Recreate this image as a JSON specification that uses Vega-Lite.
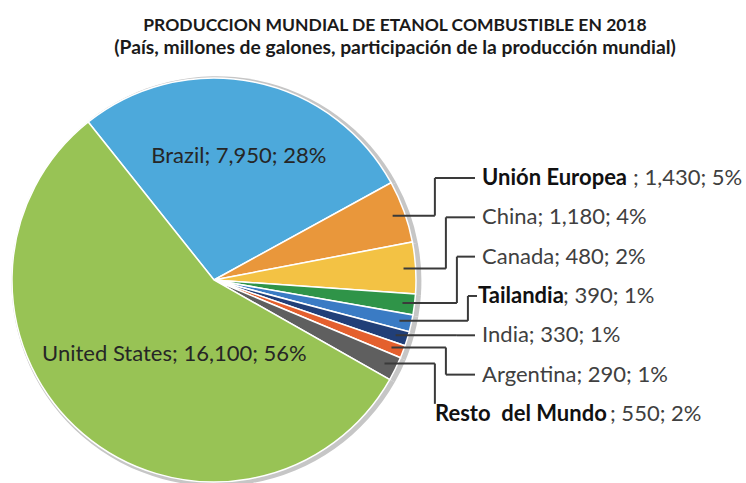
{
  "$schema": "https://vega.github.io/schema/vega-lite/v6.json",
  "width": 746,
  "height": 421,
  "autosize": {"type": "none"},
  "padding": {"left": 0, "right": 0, "top": 62, "bottom": 0},
  "background": "white",
  "config": {"view": {"stroke": null}, "font": "Lato"},
  "title": {
    "text": "PRODUCCION MUNDIAL DE ETANOL COMBUSTIBLE EN 2018",
    "subtitle": "(País, millones de galones, participación de la producción mundial)",
    "font": "Lato",
    "fontSize": 17.5,
    "fontWeight": "bold",
    "color": "#1a1a1a",
    "subtitleFont": "Lato",
    "subtitleFontSize": 19.3,
    "subtitleFontWeight": "bold",
    "subtitleColor": "#1a1a1a",
    "subtitlePadding": 4,
    "anchor": "middle",
    "dx": 22,
    "offset": 4
  },
  "data": {
    "values": [
      {"pais": "Brazil", "valor": 7950, "pct": "28%", "orden": 1},
      {"pais": "Unión Europea", "valor": 1430, "pct": "5%", "orden": 2},
      {"pais": "China", "valor": 1180, "pct": "4%", "orden": 3},
      {"pais": "Canada", "valor": 480, "pct": "2%", "orden": 4},
      {"pais": "Tailandia", "valor": 390, "pct": "1%", "orden": 5},
      {"pais": "India", "valor": 330, "pct": "1%", "orden": 6},
      {"pais": "Argentina", "valor": 290, "pct": "1%", "orden": 7},
      {"pais": "Resto\u00a0 del Mundo", "valor": 550, "pct": "2%", "orden": 8},
      {"pais": "United States", "valor": 16100, "pct": "56%", "orden": 9}
    ]
  },
  "transform": [
    {"window": [{"op": "sum", "field": "valor", "as": "acum"}], "sort": [{"field": "orden"}], "frame": [null, 0]},
    {"joinaggregate": [{"op": "sum", "field": "valor", "as": "total"}]},
    {"calculate": "datum.acum - datum.valor / 2", "as": "medio"},
    {"calculate": "-0.672 + 2 * PI * datum.medio / datum.total", "as": "ang"},
    {"calculate": "datum.pais + '; ' + format(datum.valor, ',') + '; ' + datum.pct", "as": "etiqueta"},
    {"calculate": "'; ' + format(datum.valor, ',') + '; ' + datum.pct", "as": "sufijo"},
    {"calculate": "0.94 * sin(datum.ang)", "as": "x0"},
    {"calculate": "0.94 * cos(datum.ang)", "as": "y0"},
    {"calculate": "0.505 - 0.1947 * (datum.orden - 2)", "as": "ylab"},
    {"calculate": "datum.orden == 8 ? 1.094 : (datum.orden == 5 ? 1.307 : 1.327)", "as": "xlab"},
    {"calculate": "1.257 - 0.0545 * abs(datum.orden - 5)", "as": "xe"},
    {"calculate": "datum.orden == 8 ? datum.xe : (datum.orden == 5 ? 1.302 : 1.292)", "as": "xend"},
    {"calculate": "datum.orden == 8 ? datum.ylab + 0.05 : datum.ylab", "as": "yend"}
  ],
  "layer": [
    {
      "mark": {"type": "arc", "outerRadius": 205, "color": "#c6c6c6"},
      "encoding": {
        "theta": {"field": "valor", "type": "quantitative", "stack": true, "scale": {"range": [-0.672, 5.611]}},
        "x": {"datum": 0.012, "type": "quantitative", "scale": {"domain": [-1.0594, 2.6337], "nice": false, "zero": false}, "axis": null},
        "y": {"datum": -0.006, "type": "quantitative", "scale": {"domain": [-1.005, 1.0792], "nice": false, "zero": false}, "axis": null}
      }
    },
    {
      "mark": {"type": "arc", "outerRadius": 202, "stroke": "white", "strokeWidth": 1.5},
      "encoding": {
        "theta": {"field": "valor", "type": "quantitative", "stack": true, "scale": {"range": [-0.672, 5.611]}},
        "order": {"field": "orden", "type": "quantitative"},
        "color": {
          "field": "orden",
          "type": "ordinal",
          "legend": null,
          "scale": {
            "domain": [1, 2, 3, 4, 5, 6, 7, 8, 9],
            "range": ["#4DA9DB", "#E9973B", "#F3C244", "#2F9448", "#3A7BC4", "#213F78", "#E4602E", "#5F5F5F", "#98C355"]
          }
        },
        "x": {"datum": 0, "type": "quantitative"},
        "y": {"datum": 0, "type": "quantitative"}
      }
    },
    {
      "transform": [{"filter": "datum.orden == 1"}],
      "mark": {"type": "text", "radius": 126, "fontSize": 22, "color": "#262626", "font": "Lato", "align": "center", "baseline": "middle"},
      "encoding": {
        "theta": {"field": "medio", "type": "quantitative", "stack": false},
        "x": {"datum": 0, "type": "quantitative"},
        "y": {"datum": 0, "type": "quantitative"},
        "text": {"field": "etiqueta"}
      }
    },
    {
      "transform": [{"filter": "datum.orden == 9"}],
      "mark": {"type": "text", "radius": 84, "dx": 15, "dy": 10, "fontSize": 22, "color": "#262626", "font": "Lato", "align": "center", "baseline": "middle"},
      "encoding": {
        "theta": {"field": "medio", "type": "quantitative", "stack": false},
        "x": {"datum": 0, "type": "quantitative"},
        "y": {"datum": 0, "type": "quantitative"},
        "text": {"field": "etiqueta"}
      }
    },
    {
      "transform": [{"filter": "datum.orden >= 2 && datum.orden <= 8"}],
      "mark": {"type": "rule", "color": "#3a3a3a", "strokeWidth": 2},
      "encoding": {
        "x": {"field": "x0", "type": "quantitative"},
        "x2": {"field": "xe"},
        "y": {"field": "y0", "type": "quantitative"}
      }
    },
    {
      "transform": [{"filter": "datum.orden >= 2 && datum.orden <= 8"}],
      "mark": {"type": "rule", "color": "#3a3a3a", "strokeWidth": 2},
      "encoding": {
        "x": {"field": "xe", "type": "quantitative"},
        "y": {"field": "y0", "type": "quantitative"},
        "y2": {"field": "yend"}
      }
    },
    {
      "transform": [{"filter": "datum.orden >= 2 && datum.orden <= 7"}],
      "mark": {"type": "rule", "color": "#3a3a3a", "strokeWidth": 2},
      "encoding": {
        "x": {"field": "xe", "type": "quantitative"},
        "x2": {"field": "xend"},
        "y": {"field": "ylab", "type": "quantitative"}
      }
    },
    {
      "transform": [{"filter": "datum.orden == 3 || datum.orden == 4 || datum.orden == 6 || datum.orden == 7"}],
      "mark": {"type": "text", "fontSize": 22, "color": "#404040", "font": "Lato", "align": "left", "baseline": "middle"},
      "encoding": {
        "x": {"field": "xlab", "type": "quantitative"},
        "y": {"field": "ylab", "type": "quantitative"},
        "text": {"field": "etiqueta"}
      }
    },
    {
      "transform": [{"filter": "datum.orden == 2 || datum.orden == 5 || datum.orden == 8"}],
      "mark": {"type": "text", "fontSize": 22, "fontWeight": "bold", "color": "#111111", "font": "Lato", "align": "left", "baseline": "middle"},
      "encoding": {
        "x": {"field": "xlab", "type": "quantitative"},
        "y": {"field": "ylab", "type": "quantitative"},
        "text": {"field": "pais"}
      }
    },
    {
      "transform": [{"filter": "datum.orden == 2"}],
      "mark": {"type": "text", "fontSize": 22, "dx": 151, "color": "#404040", "font": "Lato", "align": "left", "baseline": "middle"},
      "encoding": {
        "x": {"field": "xlab", "type": "quantitative"},
        "y": {"field": "ylab", "type": "quantitative"},
        "text": {"field": "sufijo"}
      }
    },
    {
      "transform": [{"filter": "datum.orden == 5"}],
      "mark": {"type": "text", "fontSize": 22, "dx": 85, "color": "#404040", "font": "Lato", "align": "left", "baseline": "middle"},
      "encoding": {
        "x": {"field": "xlab", "type": "quantitative"},
        "y": {"field": "ylab", "type": "quantitative"},
        "text": {"field": "sufijo"}
      }
    },
    {
      "transform": [{"filter": "datum.orden == 8"}],
      "mark": {"type": "text", "fontSize": 22, "dx": 175, "color": "#404040", "font": "Lato", "align": "left", "baseline": "middle"},
      "encoding": {
        "x": {"field": "xlab", "type": "quantitative"},
        "y": {"field": "ylab", "type": "quantitative"},
        "text": {"field": "sufijo"}
      }
    }
  ]
}
